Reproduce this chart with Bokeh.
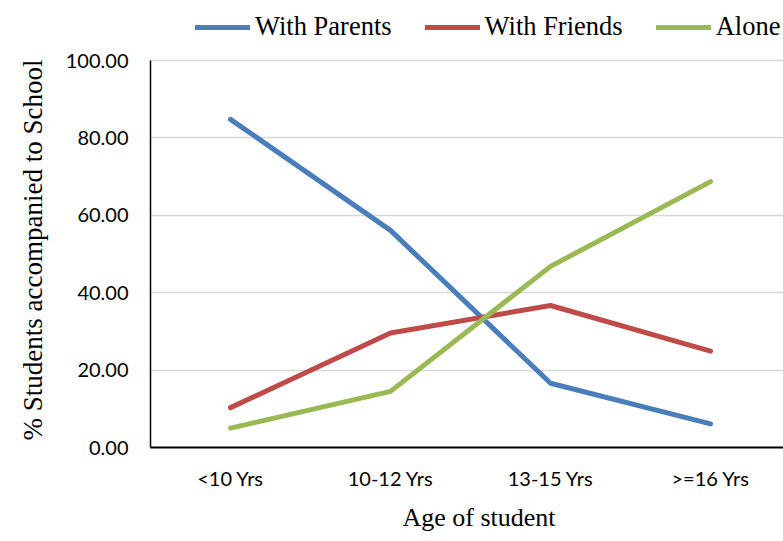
from bokeh.plotting import figure
from bokeh.models import (Legend, LegendItem, FixedTicker, NumeralTickFormatter,
                          Range1d, ColumnDataSource, Title)
from bokeh.embed import file_html
from bokeh.resources import INLINE

# Age groups and share of students (%) by how they travel to school
age_groups = ["<10 Yrs", "10-12 Yrs", "13-15 Yrs", ">=16 Yrs"]
with_parents = [84.8, 56.1, 16.6, 6.1]
with_friends = [10.3, 29.6, 36.7, 24.9]
alone = [5.0, 14.5, 46.8, 68.7]
y_ticks = [0, 20, 40, 60, 80, 100]

series = [
    ("With Parents", with_parents, "#4A7EBB"),
    ("With Friends", with_friends, "#BE4B48"),
    ("Alone", alone, "#98B954"),
]

x_pos = list(range(len(age_groups)))

# frame runs to the top edge so the legend row can live inside it;
# the y range is stretched so 100 sits 60px below the top
W, H = 783, 541
BORDER_BOTTOM = 94
frame_h = H - BORDER_BOTTOM
top_gap = 60
y_max = 100 * frame_h / (frame_h - top_gap)

p = figure(width=W, height=H, output_backend="svg", toolbar_location=None,
           x_range=Range1d(-0.5, 3.456), y_range=Range1d(0, y_max))
p.min_border_left = 150
p.min_border_right = 0
p.min_border_top = 0
p.min_border_bottom = BORDER_BOTTOM
p.outline_line_color = None
p.background_fill_color = "white"
p.border_fill_color = "white"

renderers = []
for name, vals, color in series:
    src = ColumnDataSource(dict(x=x_pos, y=vals))
    r = p.line("x", "y", source=src, line_color=color, line_width=5,
               line_cap="round", line_join="round")
    renderers.append((name, r))

# x axis: category labels at integer positions
p.xaxis.ticker = FixedTicker(ticks=x_pos)
p.xaxis.major_label_overrides = {i: lab for i, lab in enumerate(age_groups)}
p.xaxis.major_tick_line_color = None
p.xaxis.minor_tick_line_color = None
p.xaxis.axis_line_color = "black"
p.xaxis.axis_line_width = 2
p.xaxis.major_label_text_font = "Lato"
p.xaxis.major_label_text_font_size = "20px"
p.xaxis.major_label_text_color = "black"
p.xaxis.major_label_standoff = 12

# y axis
p.yaxis.ticker = FixedTicker(ticks=y_ticks)
p.yaxis.bounds = (0, 100)
p.yaxis.formatter = NumeralTickFormatter(format="0.00")
p.yaxis.major_tick_line_color = None
p.yaxis.minor_tick_line_color = None
p.yaxis.axis_line_color = "black"
p.yaxis.axis_line_width = 1.5
p.yaxis.major_label_text_font = "Lato"
p.yaxis.major_label_text_font_size = "20px"
p.yaxis.major_label_text_color = "black"
p.yaxis.major_label_standoff = 16

# axis titles as side titles so they can be nudged along the frame
x_title = Title(text="Age of student", align="left", offset=252, standoff=16,
                text_font="Liberation Serif", text_font_style="normal",
                text_font_size="26px", text_color="black")
p.add_layout(x_title, "below")
y_title = Title(text="% Students accompanied to School", align="left",
                offset=7, standoff=29,
                text_font="Liberation Serif", text_font_style="normal",
                text_font_size="27px", text_color="black")
p.add_layout(y_title, "left")

p.xgrid.grid_line_color = None
p.ygrid.grid_line_color = "#D9D9D9"
p.ygrid.grid_line_width = 1.5

# legend row across the top of the chart
legend = Legend(
    items=[LegendItem(label=n, renderers=[r]) for n, r in renderers],
    orientation="horizontal",
    location=(45, frame_h - 42),
    glyph_width=55,
    glyph_height=20,
    label_standoff=5,
    spacing=33,
    padding=0,
    margin=0,
    border_line_color=None,
    background_fill_alpha=0,
    label_text_font="Liberation Serif",
    label_text_font_size="26.5px",
    label_text_color="black",
)
p.add_layout(legend, "center")

open("out.html", "w").write(file_html(p, INLINE))
